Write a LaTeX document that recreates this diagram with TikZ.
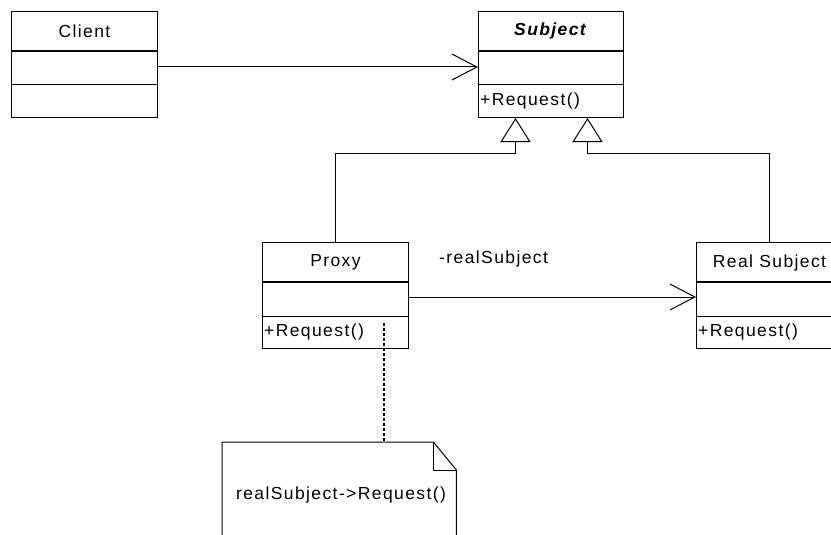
\documentclass[tikz,border=0pt]{standalone}
\usepackage{fontspec}
\setmainfont{Liberation Sans}[LetterSpace=8]
\usetikzlibrary{calc,arrows.meta}
\tikzset{
  classbox/.style={draw, line width=1pt, minimum width=146pt, minimum height=106pt, inner sep=0pt, anchor=north west},
  lbl/.style={font=\fontsize{17.5}{20}\selectfont, inner sep=0pt},
  thicksep/.style={line width=2.6pt},
  thinsep/.style={line width=1pt},
  assoc/.style={line width=1pt, -{Straight Barb[length=25pt, width=26pt, line width=1pt]}},
  gen/.style={line width=1pt, -{Triangle[open, length=24pt, width=30pt, line width=1pt, fill=white]}},
  notelink/.style={line width=1.2pt, dash pattern=on 3pt off 2pt},
}
\begin{document}
\begin{tikzpicture}[x=1pt,y=-1pt]
\useasboundingbox (0,0) rectangle (831,535);
\clip (0,0) rectangle (831,535);
\fill[white] (0,0) rectangle (831,535);

% class boxes
\node[classbox] (client) at (11,11) {};
\node[classbox, minimum width=145pt] (subject) at (478,11) {};
\node[classbox] (proxy) at (262,242) {};
\node[classbox] (real) at (696,242) {};

% compartments
\foreach \c in {client,subject,proxy,real}{
  \draw[thicksep] ($(\c.north west)+(0,40)$) -- ($(\c.north east)+(0,40)$);
  \draw[thinsep] ($(\c.north west)+(0,74)$) -- ($(\c.north east)+(0,74)$);
}

% titles
\node[lbl] (clientT) at ($(client.north)+(0,20)$) {Client};
\node[lbl] (subjectT) at ($(subject.north)+(0,20)$) {\textbf{\textit{Subject}}};
\node[lbl] (proxyT) at ($(proxy.north)+(0,20)$) {Proxy};
\node[lbl] (realT) at ($(real.north)+(0,21)$) {Real Subject};

% operations
\node[lbl, anchor=west] (subjectOp) at ($(subject.north west)+(2,90)$) {+Request()};
\node[lbl, anchor=west] (proxyOp) at ($(proxy.north west)+(2,90)$) {+Request()};
\node[lbl, anchor=west] (realOp) at ($(real.north west)+(2,90)$) {+Request()};

% associations
\draw[assoc] ($(client.north east)+(0,56)$) -- ($(subject.north west)+(0,56)$);
\draw[assoc] ($(proxy.north east)+(0,55)$) -- ($(real.north west)+(0,55)$);
\node[lbl, anchor=west] (assocL) at (439,259) {-realSubject};

% generalizations
\draw[gen] (proxy.north) |- ($(subject.south)+(-35.5,35)$) -- ($(subject.south)+(-35.5,0)$);
\draw[gen] (real.north) |- ($(subject.south)+(36.5,35)$) -- ($(subject.south)+(36.5,0)$);

% note
\node[minimum width=234pt, minimum height=110pt, inner sep=0pt, anchor=north west] (note) at (222,442) {};
\draw[line width=1pt, fill=white] (note.south west) -- (note.north west) -- ($(note.north east)+(-23,0)$)
   -- ($(note.north east)+(0,28)$) -- (note.south east);
\draw[line width=1pt] ($(note.north east)+(-23,0)$) -- ($(note.north east)+(-23,28)$) -- ($(note.north east)+(0,28)$);
\node[lbl] (noteT) at ($(note.north west)+(119,53)$) {realSubject->Request()};
\draw[notelink] ($(proxy.south west)+(122,-26)$) -- (note.north west -| {$(proxy.south west)+(122,0)$});
\end{tikzpicture}
\end{document}
